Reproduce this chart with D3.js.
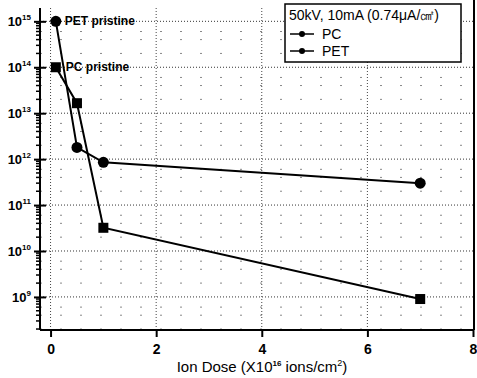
<!DOCTYPE html>
<html>
<head>
<meta charset="utf-8">
<script src="https://cdn.jsdelivr.net/npm/d3@7"></script>
<style>
  body { margin: 0; background: #fff; }
  svg { font-family: Arial, "Liberation Sans", sans-serif; }
</style>
</head>
<body>
<svg id="chart" width="477" height="378"></svg>
<script>
// values
const doses = [0.1, 0.5, 1.0, 7.0];
const pcValues = [1e14, 1.65e13, 3.2e10, 9e8];
const petValues = [1e15, 1.8e12, 8.5e11, 3e11];
const xTicks = [0, 2, 4, 6, 8];
const yExponents = [9, 10, 11, 12, 13, 14, 15];
const legendItems = ["PC", "PET"];

const svg = d3.select("#chart");
const plotLeft = 40, plotRight = 474, plotTop = 8, plotBottom = 330;

const x = d3.scaleLinear().domain([-0.2, 8]).range([plotLeft, plotRight - 1]);
const y = d3.scaleLog().domain([Math.pow(10, 8.28), Math.pow(10, 15.29)]).range([plotBottom, plotTop]);

// minor dotted grid (sparse dots like the scan)
const minorY = [];
yExponents.concat([8]).forEach((e) => {
    [2, 4, 6].forEach((m) => {
        const v = m * Math.pow(10, e);
        if (v > y.domain()[0] && v < y.domain()[1]) minorY.push(v);
    });
});
svg.append("g")
    .selectAll("line")
    .data(minorY)
    .join("line")
    .attr("x1", plotLeft).attr("x2", plotRight)
    .attr("y1", (d) => y(d)).attr("y2", (d) => y(d))
    .attr("stroke", "#888")
    .attr("stroke-width", 1)
    .attr("stroke-dasharray", "2,18");

// major dotted grid
svg.append("g")
    .selectAll("line")
    .data(yExponents)
    .join("line")
    .attr("x1", plotLeft).attr("x2", plotRight)
    .attr("y1", (d) => y(Math.pow(10, d))).attr("y2", (d) => y(Math.pow(10, d)))
    .attr("stroke", "#333")
    .attr("stroke-width", 1)
    .attr("stroke-dasharray", "1,2");

svg.append("g")
    .selectAll("line")
    .data(xTicks.slice(0, 4))
    .join("line")
    .attr("x1", (d) => x(d)).attr("x2", (d) => x(d))
    .attr("y1", plotTop).attr("y2", plotBottom)
    .attr("stroke", "#444")
    .attr("stroke-width", 1)
    .attr("stroke-dasharray", "1,2");

// axes
const yAxis = d3.axisLeft(y)
    .tickValues(yExponents.map((e) => Math.pow(10, e)))
    .tickSize(6)
    .tickFormat("");
svg.append("g")
    .attr("transform", `translate(${plotLeft},0)`)
    .call(yAxis)
    .call((g) => g.select(".domain").attr("stroke-width", 2).attr("d", `M0,${plotTop}V${plotBottom}`))
    .call((g) => g.selectAll(".tick line").attr("stroke-width", 2).attr("x2", 6).attr("x1", -6));

// minor y ticks
const minorTicks = [];
[8, 9, 10, 11, 12, 13, 14, 15].forEach((e) => {
    for (let m = 2; m <= 9; m++) {
        const v = m * Math.pow(10, e);
        if (v > y.domain()[0] && v < y.domain()[1]) minorTicks.push(v);
    }
});
svg.append("g")
    .selectAll("line")
    .data(minorTicks)
    .join("line")
    .attr("x1", plotLeft - 4).attr("x2", plotLeft)
    .attr("y1", (d) => y(d)).attr("y2", (d) => y(d))
    .attr("stroke", "#000")
    .attr("stroke-width", 1.5);

const yLabels = svg.append("g")
    .selectAll("text")
    .data(yExponents)
    .join("text")
    .attr("x", 31)
    .attr("y", (d) => y(Math.pow(10, d)) + 5)
    .attr("text-anchor", "end")
    .attr("font-size", 13)
    .attr("font-weight", "bold");
yLabels.append("tspan").text("10");
yLabels.append("tspan").attr("dy", -6).attr("font-size", 8).text((d) => d);

const xAxis = d3.axisBottom(x).tickValues(xTicks).tickSize(7).tickFormat(d3.format("d"));
svg.append("g")
    .attr("transform", `translate(0,${plotBottom})`)
    .call(xAxis)
    .call((g) => g.select(".domain").attr("stroke-width", 2).attr("d", `M${plotLeft},0H${plotRight}`))
    .call((g) => g.selectAll(".tick line").attr("stroke-width", 2))
    .call((g) => g.selectAll(".tick text")
        .attr("font-size", 14)
        .attr("font-weight", "bold")
        .attr("font-family", "Arial, 'Liberation Sans', sans-serif")
        .attr("dy", "1.0em"));

// right border
svg.append("line")
    .attr("x1", plotRight).attr("x2", plotRight)
    .attr("y1", 0).attr("y2", plotBottom)
    .attr("stroke", "#000")
    .attr("stroke-width", 2);

// x title
const xTitle = svg.append("text")
    .attr("x", 262)
    .attr("y", 372)
    .attr("text-anchor", "middle")
    .attr("font-size", 15);
xTitle.append("tspan").text("Ion Dose (X10");
xTitle.append("tspan").attr("dy", -6).attr("font-size", 8).attr("font-weight", "bold").text("16");
xTitle.append("tspan").attr("dy", 6).text(" ions/cm");
xTitle.append("tspan").attr("dy", -6).attr("font-size", 9).text("2");
xTitle.append("tspan").attr("dy", 6).text(")");

// series
const line = d3.line()
    .x((d) => x(d[0]))
    .y((d) => y(d[1]));

const pcData = doses.map((d, i) => [d, pcValues[i]]);
const petData = doses.map((d, i) => [d, petValues[i]]);

svg.append("path")
    .datum(pcData)
    .attr("fill", "none")
    .attr("stroke", "#000")
    .attr("stroke-width", 2)
    .attr("d", line);

svg.append("path")
    .datum(petData)
    .attr("fill", "none")
    .attr("stroke", "#000")
    .attr("stroke-width", 2)
    .attr("d", line);

svg.append("g")
    .selectAll("rect")
    .data(pcData)
    .join("rect")
    .attr("x", (d) => x(d[0]) - 5)
    .attr("y", (d) => y(d[1]) - 5)
    .attr("width", 10)
    .attr("height", 10)
    .attr("fill", "#000");

svg.append("g")
    .selectAll("circle")
    .data(petData)
    .join("circle")
    .attr("cx", (d) => x(d[0]))
    .attr("cy", (d) => y(d[1]))
    .attr("r", 5.5)
    .attr("fill", "#000");

// annotations
svg.append("text")
    .attr("x", x(petData[0][0]) + 9)
    .attr("y", y(petData[0][1]) + 4)
    .attr("font-size", 12)
    .attr("font-weight", "bold")
    .text("PET pristine");

svg.append("text")
    .attr("x", x(pcData[0][0]) + 10)
    .attr("y", y(pcData[0][1]) + 4)
    .attr("font-size", 12)
    .attr("font-weight", "bold")
    .text("PC pristine");

// legend
const legend = svg.append("g").attr("transform", "translate(285,4)");
legend.append("rect")
    .attr("width", 176)
    .attr("height", 58)
    .attr("fill", "#fff")
    .attr("stroke", "#000")
    .attr("stroke-width", 1.5);
legend.append("text")
    .attr("x", 4)
    .attr("y", 16)
    .attr("font-size", 14)
    .text("50kV, 10mA (0.74\u03bcA/\u33a0)");
const items = legend.selectAll(".item")
    .data(legendItems)
    .join("g")
    .attr("class", "item")
    .attr("transform", (d, i) => `translate(0,${30 + i * 17})`);
items.append("line")
    .attr("x1", 5).attr("x2", 29)
    .attr("stroke", "#000")
    .attr("stroke-width", 1.5);
items.append("circle")
    .attr("cx", 17)
    .attr("r", 3)
    .attr("fill", "#000");
items.append("text")
    .attr("x", 37)
    .attr("y", 5)
    .attr("font-size", 14)
    .text((d) => d);
</script>
</body>
</html>
